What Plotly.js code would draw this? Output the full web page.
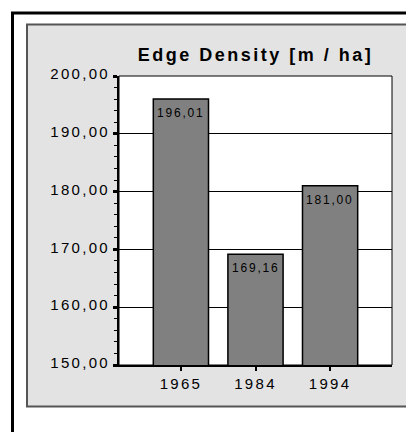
<!DOCTYPE html>
<html>
<head>
<meta charset="utf-8">
<script src="https://cdn.plot.ly/plotly-3.0.1.min.js"></script>
<style>
  html, body { margin: 0; padding: 0; background: #ffffff; }
  #chart { width: 406px; height: 432px; }
  .xtick text, .ytick text { letter-spacing: 2.3px; }
  text.gtitle { letter-spacing: 2.5px; }
  text.annotation-text { letter-spacing: 1.8px; }
</style>
</head>
<body>
<div id="chart"></div>
<script>
const categories = ['1965', '1984', '1994'];
const values = [196.01, 169.16, 181.00];
const chartTitle = 'Edge Density [m / ha]';
const yRange = [150, 200];

const FONT = 'Liberation Sans, Arial, Helvetica, sans-serif';
const W = 406, H = 432;
const M = { l: 119, r: 14, t: 76, b: 67 };
const PW = W - M.l - M.r, PH = H - M.t - M.b;
const px = x => (x - M.l) / PW;
const py = y => (H - M.b - y) / PH;

const trace = {
  type: 'bar',
  x: categories,
  y: values,
  width: 0.74,
  marker: { color: '#808080', line: { color: '#000000', width: 1.5 } },
  hoverinfo: 'skip'
};

const annotations = categories.map((c, i) => ({
  x: i, y: values[i], xref: 'x', yref: 'y',
  text: values[i].toFixed(2).replace('.', ','),
  showarrow: false, xanchor: 'center', yanchor: 'middle', yshift: -14,
  font: { family: FONT, size: 12, color: '#000000' }
}));

const shapes = [
  { type: 'rect', xref: 'paper', yref: 'paper', layer: 'below',
    x0: px(12.5), x1: px(430), y0: py(13), y1: py(460),
    line: { color: '#000000', width: 3 }, fillcolor: 'rgba(0,0,0,0)' },
  { type: 'rect', xref: 'paper', yref: 'paper', layer: 'below',
    x0: px(27), x1: px(430), y0: py(24.5), y1: py(406.5),
    line: { color: '#555555', width: 2 }, fillcolor: '#e3e3e3' },
  { type: 'rect', xref: 'paper', yref: 'paper', layer: 'below',
    x0: 0, x1: 1, y0: 0, y1: 1,
    line: { color: '#000000', width: 1 }, fillcolor: '#ffffff' }
];

const layout = {
  width: W, height: H,
  margin: M,
  paper_bgcolor: '#ffffff',
  plot_bgcolor: 'rgba(0,0,0,0)',
  separators: ',.',
  showlegend: false,
  font: { family: FONT, color: '#000000' },
  title: {
    text: '<b>' + chartTitle + '</b>',
    font: { family: FONT, size: 18, color: '#000000' },
    xref: 'paper', x: 0.5, xanchor: 'center',
    yref: 'container', y: 1 - 55 / H, yanchor: 'middle'
  },
  xaxis: {
    type: 'category',
    range: [-0.83, 2.83],
    showline: true, linecolor: '#000000', linewidth: 2,
    showgrid: false, zeroline: false,
    ticks: 'outside', ticklen: 4, tickwidth: 2, tickcolor: '#000000',
    tickfont: { family: FONT, size: 15, color: '#000000' },
    fixedrange: true
  },
  yaxis: {
    range: yRange,
    dtick: 10, tick0: 150,
    tickformat: '.2f',
    ticklabelshift: -2,
    showline: true, linecolor: '#000000', linewidth: 2,
    showgrid: true, gridcolor: '#000000', gridwidth: 1,
    zeroline: false,
    ticks: 'outside', ticklen: 4, tickwidth: 3, tickcolor: '#000000',
    minor: { dtick: 2, ticks: 'outside', ticklen: 3, tickwidth: 1, tickcolor: '#000000', showgrid: false },
    tickfont: { family: FONT, size: 15, color: '#000000' },
    fixedrange: true
  },
  annotations: annotations,
  shapes: shapes
};

Plotly.newPlot('chart', [trace], layout, { displayModeBar: false, staticPlot: true });
</script>
</body>
</html>
